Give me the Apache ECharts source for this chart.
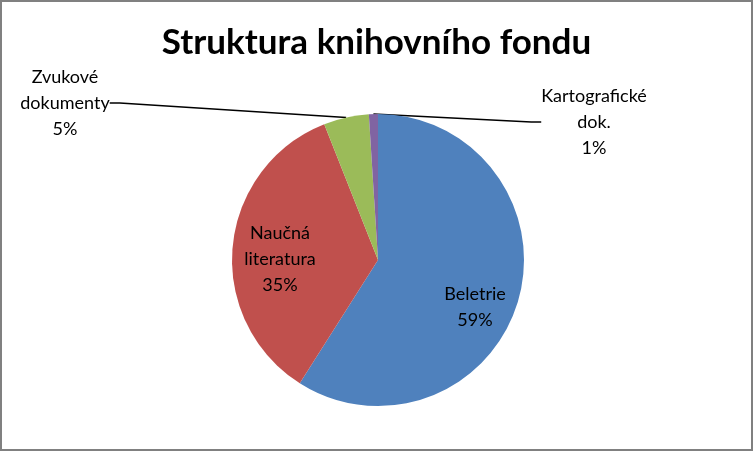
<!DOCTYPE html>
<html lang="cs">
  <head>
    <meta charset="UTF-8" />
    <title>Struktura knihovního fondu</title>
    <script src="https://cdn.jsdelivr.net/npm/echarts@6/dist/echarts.min.js"></script>
    <style>
      html, body { margin: 0; padding: 0; background: #fff; }
      #chart {
        width: 753px;
        height: 451px;
        box-sizing: border-box;
        border: 2px solid #808080;
      }
    </style>
  </head>
  <body>
    <div id="chart"></div>
    <script>
      // data
      const categories = ["Beletrie", "Naučná literatura", "Zvukové dokumenty", "Kartografické dok."];
      const values = [59, 35, 5, 1];
      const colors = ["#4F81BD", "#C0504D", "#9BBB59", "#8064A2"];

      var chart = echarts.init(document.getElementById("chart"));

      // label centres, as in the original chart
      const labelPos = [
        [473, 305],
        [278, 257],
        [63, 101],
        [592, 120],
      ];

      var option = {
        animation: false,
        textStyle: { fontFamily: "Lato, 'Noto Sans', sans-serif" },
        title: {
          text: "Struktura knihovního fondu",
          left: "center",
          top: 18,
          textStyle: {
            fontFamily: "Lato, 'Noto Sans', sans-serif",
            fontSize: 35,
            fontWeight: "bold",
            color: "#000",
          },
        },
        series: [
          {
            type: "pie",
            center: [376, 258],
            radius: 146,
            startAngle: 90,
            clockwise: true,
            percentPrecision: 0,
            emphasis: { disabled: true },
            data: categories.map((name, i) => ({
              name: name,
              value: values[i],
              itemStyle: { color: colors[i] },
              label: {
                position: i < 2 ? "inside" : "outside",
              },
              labelLine: { show: i >= 2 },
            })),
            label: {
              formatter: (p) => p.name.replace(" ", "\n") + "\n" + p.percent + "%",
              color: "#000",
              fontSize: 18,
              lineHeight: 26,
              align: "center",
            },
            labelLine: {
              length: 10,
              length2: 10,
              lineStyle: { color: "#000", width: 1.5 },
            },
            labelLayout: function (params) {
              const pos = labelPos[params.dataIndex];
              return { x: pos[0], y: pos[1], align: "center", verticalAlign: "middle" };
            },
          },
        ],
      };

      option && chart.setOption(option);
    </script>
  </body>
</html>
